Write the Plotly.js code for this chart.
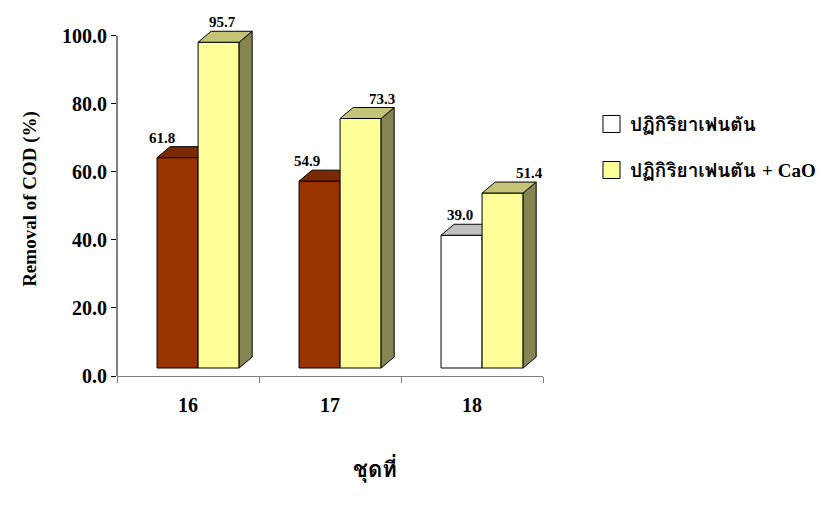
<!DOCTYPE html>
<html>
<head>
<meta charset="utf-8">
<script src="https://cdn.plot.ly/plotly-3.0.1.min.js"></script>
<style>html,body{margin:0;padding:0;background:#fff;}#chart{width:831px;height:505px;}</style>
</head>
<body>
<div id="chart"></div>
<script>
// ---- data ----
const categories = ['16', '17', '18'];
const fenton = [61.8, 54.9, 39.0];
const fentonCaO = [95.7, 73.3, 51.4];
const seriesThai = 'ปฏิกิริยาเฟนตัน';
const seriesNames = [seriesThai, seriesThai + ' <span style="font-family:\'Liberation Serif\', serif">+ CaO</span>'];
const yTickVals = [0, 20, 40, 60, 80, 100];
const yTickText = ['0.0', '20.0', '40.0', '60.0', '80.0', '100.0'];
const xTitle = 'ชุดที่';
const yTitle = 'Removal of COD (%)';

// ---- styles ----
const serif = '"Liberation Serif", "Times New Roman", serif';
const thai = 'Norasi, Kinnari, "TlwgTypist", Garuda, Loma, "Noto Serif Thai", "Noto Sans Thai", "Liberation Serif", serif';
const frontA = ['#993300', '#993300', '#FFFFFF'];
const topA = ['#7A2900', '#7A2900', '#C0C0C0'];
const frontB = '#FFFF99', topB = '#C4C476', sideB = '#858552';
const BASE = 2.35, DX = 0.092, DY = 3.23, W = 0.289, OFFA = -0.218, OFFB = 0.071;
const labelShiftA = [-16, -13, -2];
const labelShiftB = [4, 21, 27];

function poly(xs, ys, color) {
  return {type: 'scatter', mode: 'lines', x: xs.concat([xs[0]]), y: ys.concat([ys[0]]),
    fill: 'toself', fillcolor: color, line: {color: '#000', width: 1},
    hoverinfo: 'skip', showlegend: false};
}
const traces = [];
const annotations = [];
categories.forEach((cat, i) => {
  const a = fenton[i], b = fentonCaO[i];
  const ax0 = i + OFFA, ax1 = ax0 + W;
  const bx0 = i + OFFB, bx1 = bx0 + W;
  traces.push(poly([ax0, ax1, ax1, ax0], [BASE, BASE, BASE + a, BASE + a], frontA[i]));
  traces.push(poly([ax0, ax1, ax1 + DX, ax0 + DX], [BASE + a, BASE + a, BASE + a + DY, BASE + a + DY], topA[i]));
  traces.push(poly([bx0, bx1, bx1, bx0], [BASE, BASE, BASE + b, BASE + b], frontB));
  traces.push(poly([bx1, bx1 + DX, bx1 + DX, bx1], [BASE, BASE + DY, BASE + b + DY, BASE + b], sideB));
  traces.push(poly([bx0, bx1, bx1 + DX, bx0 + DX], [BASE + b, BASE + b, BASE + b + DY, BASE + b + DY], topB));
  annotations.push({x: ax0 + W / 2, y: BASE + a + DY, xref: 'x', yref: 'y', text: a.toFixed(1),
    showarrow: false, xshift: labelShiftA[i], yshift: 9, yanchor: 'middle',
    font: {family: serif, size: 15, color: '#000', weight: 'bold'}});
  annotations.push({x: bx0 + W / 2, y: BASE + b + DY, xref: 'x', yref: 'y', text: b.toFixed(1),
    showarrow: false, xshift: labelShiftB[i], yshift: 9, yanchor: 'middle',
    font: {family: serif, size: 15, color: '#000', weight: 'bold'}});
  annotations.push({x: i, y: 0, xref: 'x', yref: 'paper', text: cat, showarrow: false,
    yshift: -29, yanchor: 'middle', font: {family: serif, size: 20, color: '#000', weight: 'bold'}});
});
// legend (manual)
const legendY = [0.7119, 0.5819];
const legendFill = ['#FFFFFF', frontB];
seriesNames.forEach((n, k) => {
  annotations.push({x: 1.1995, y: legendY[k], xref: 'paper', yref: 'paper', text: n, showarrow: false,
    xanchor: 'left', yanchor: 'middle', font: {family: thai, size: 19, color: '#000', weight: 'bold'}});
});
annotations.push({x: 0.6056, y: -0.2655, xref: 'paper', yref: 'paper', text: xTitle, showarrow: false,
  xanchor: 'center', yanchor: 'middle', font: {family: thai, size: 22, color: '#000', weight: 'bold'}});

const shapes = [
  {type: 'line', xref: 'paper', yref: 'y', x0: 0, x1: 0, y0: 0, y1: 100, line: {color: '#000', width: 1}}
];
seriesNames.forEach((n, k) => {
  shapes.push({type: 'rect', xref: 'paper', yref: 'paper', x0: 1.1408, x1: 1.1808,
    y0: legendY[k] - 0.024, y1: legendY[k] + 0.024, fillcolor: legendFill[k], line: {color: '#000', width: 1}});
});

const layout = {
  width: 831, height: 505,
  margin: {l: 117, r: 288, t: 22, b: 129},
  paper_bgcolor: '#fff', plot_bgcolor: '#fff',
  showlegend: false,
  xaxis: {range: [-0.5, 2.5], tickvals: [-0.5, 0.5, 1.5, 2.5], ticktext: ['', '', '', ''],
    ticks: 'outside', ticklen: 6, tickcolor: '#808080', showline: true, linecolor: '#808080', linewidth: 1,
    showgrid: false, zeroline: false, fixedrange: true},
  yaxis: {range: [0, 104], tickvals: yTickVals, ticktext: yTickText, ticks: 'outside', ticklen: 5,
    tickcolor: '#000', showline: false, showgrid: false, zeroline: false,
    tickfont: {family: serif, size: 20, color: '#000', weight: 'bold'},
    title: {text: yTitle, standoff: 20, font: {family: serif, size: 19, color: '#000', weight: 'bold'}}},
  annotations: annotations,
  shapes: shapes
};
Plotly.newPlot('chart', traces, layout, {displayModeBar: false, staticPlot: true});
</script>
</body>
</html>
